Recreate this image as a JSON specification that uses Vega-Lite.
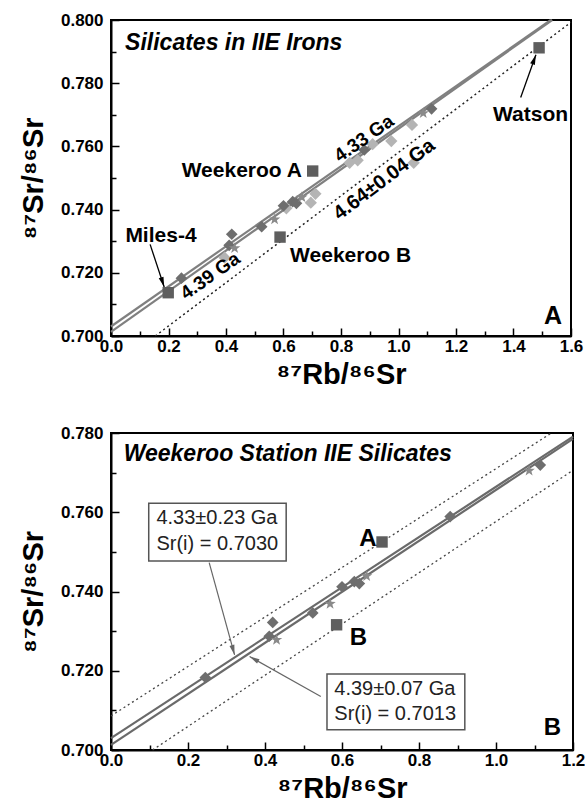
{
  "$schema": "https://vega.github.io/schema/vega-lite/v6.json",
  "background": "white",
  "padding": {"left": 18, "top": 10, "right": 5, "bottom": 0},
  "spacing": 33,
  "config": {
    "font": "Liberation Sans",
    "view": {"stroke": "black", "strokeWidth": 2},
    "axis": {
      "domainColor": "black", "domainWidth": 2, "tickColor": "black", "tickWidth": 1.5,
      "labelFont": "Liberation Sans", "labelFontWeight": "bold", "labelFontSize": 17, "labelColor": "black",
      "titleFont": "Liberation Sans", "titleFontWeight": "bold", "titleFontSize": 29, "titleColor": "black",
      "grid": false, "labelOverlap": false, "labelFlush": false
    }
  },
  "vconcat": [
    {
      "width": 460, "height": 316,
      "encoding": {
        "x": {"field": "x", "type": "quantitative", "title": "⁸⁷Rb/⁸⁶Sr",
          "scale": {"domain": [0, 1.6], "nice": false, "zero": false},
          "axis": {"values": [0, 0.1, 0.2, 0.3, 0.4, 0.5, 0.6, 0.7, 0.8, 0.9, 1.0, 1.1, 1.2, 1.3, 1.4, 1.5, 1.6],
            "labelExpr": "round(datum.value*10)%2===0 ? format(datum.value,'.1f') : ''",
            "tickSize": {"condition": {"test": "round(datum.value*10)%2===0", "value": -8}, "value": -5},
            "labelPadding": 10, "titlePadding": 3}},
        "y": {"field": "y", "type": "quantitative", "title": "⁸⁷Sr/⁸⁶Sr",
          "scale": {"domain": [0.7, 0.8], "nice": false, "zero": false},
          "axis": {"values": [0.7, 0.71, 0.72, 0.73, 0.74, 0.75, 0.76, 0.77, 0.78, 0.79, 0.8],
            "labelExpr": "round(datum.value*100)%2===0 ? format(datum.value,'.3f') : ''",
            "tickSize": {"condition": {"test": "round(datum.value*100)%2===0", "value": -8}, "value": -5},
            "labelPadding": 16, "titlePadding": 12}}
      },
      "layer": [
        {
          "data": {"values": [
            {"id": "a", "x": 0, "y": 0.7030}, {"id": "a", "x": 1.530, "y": 0.8},
            {"id": "b", "x": 0, "y": 0.7013}, {"id": "b", "x": 1.5345, "y": 0.8}
          ]},
          "mark": {"type": "line", "color": "#808080", "strokeWidth": 2.2},
          "encoding": {"detail": {"field": "id"}}
        },
        {
          "data": {"values": [{"x": 0.154, "y": 0.7}, {"x": 1.6, "y": 0.7993}]},
          "mark": {"type": "line", "color": "#222222", "strokeWidth": 1.5, "strokeDash": [2, 3]},
          "encoding": {}
        },
        {
          "data": {"values": [
            {"id": "m", "x": 0.136, "y": 0.729}, {"id": "m", "x": 0.185, "y": 0.7155},
            {"id": "w", "x": 1.425, "y": 0.7755}, {"id": "w", "x": 1.478, "y": 0.789}
          ]},
          "mark": {"type": "line", "color": "black", "strokeWidth": 1.3},
          "encoding": {"detail": {"field": "id"}}
        },
        {
          "data": {"values": [{"x": 0.185, "y": 0.7155}]},
          "mark": {"type": "point", "filled": true, "opacity": 1, "color": "black", "size": 100, "angle": 162, "shape": "M0,0L-0.5,2L0.5,2Z"}
        },
        {
          "data": {"values": [{"x": 1.478, "y": 0.789}]},
          "mark": {"type": "point", "filled": true, "opacity": 1, "color": "black", "size": 100, "angle": 20, "shape": "M0,0L-0.5,2L0.5,2Z"}
        },
        {
          "data": {"values": [
            {"x": 0.395, "y": 0.7248, "k": "lite"}, {"x": 0.61, "y": 0.7404, "k": "lite"},
            {"x": 0.695, "y": 0.7422, "k": "lite"}, {"x": 0.711, "y": 0.7450, "k": "lite"},
            {"x": 0.83, "y": 0.7548, "k": "lite"}, {"x": 0.858, "y": 0.7556, "k": "lite"},
            {"x": 0.91, "y": 0.7607, "k": "lite"}, {"x": 0.975, "y": 0.7617, "k": "lite"},
            {"x": 1.047, "y": 0.7668, "k": "lite"}, {"x": 1.053, "y": 0.7548, "k": "lite"},
            {"x": 0.245, "y": 0.7183, "k": "dia"}, {"x": 0.42, "y": 0.7322, "k": "dia"},
            {"x": 0.411, "y": 0.7287, "k": "dia"}, {"x": 0.524, "y": 0.7346, "k": "dia"},
            {"x": 0.600, "y": 0.7412, "k": "dia"}, {"x": 0.632, "y": 0.7425, "k": "dia"},
            {"x": 0.645, "y": 0.7420, "k": "dia"}, {"x": 0.881, "y": 0.7589, "k": "dia"},
            {"x": 1.115, "y": 0.7719, "k": "dia"},
            {"x": 0.430, "y": 0.7278, "k": "star"}, {"x": 0.569, "y": 0.7369, "k": "star"},
            {"x": 0.664, "y": 0.7439, "k": "star"}, {"x": 1.086, "y": 0.7705, "k": "star"},
            {"x": 0.7015, "y": 0.7522, "k": "sq"}, {"x": 0.588, "y": 0.7313, "k": "sq"},
            {"x": 0.199, "y": 0.7137, "k": "sq"}, {"x": 1.489, "y": 0.7912, "k": "sq"}
          ]},
          "mark": {"type": "point", "filled": true, "opacity": 1},
          "encoding": {
            "shape": {"field": "k", "legend": null, "scale": {"domain": ["sq", "dia", "star", "lite"],
              "range": ["square", "diamond", "M0,-1L0.235,-0.324L0.951,-0.309L0.38,0.124L0.588,0.809L0,0.4L-0.588,0.809L-0.38,0.124L-0.951,-0.309L-0.235,-0.324Z", "diamond"]}},
            "color": {"field": "k", "legend": null, "scale": {"domain": ["sq", "dia", "star", "lite"],
              "range": ["#5e5e5e", "#6e6e6e", "#8a8a8a", "#b4b4b4"]}},
            "size": {"field": "k", "legend": null, "scale": {"domain": ["sq", "dia", "star", "lite"],
              "range": [130, 150, 230, 150]}}
          }
        },
        {
          "data": {"values": [{"x": 0.049, "y": 0.7927, "t": "Silicates in IIE Irons"}]},
          "mark": {"type": "text", "fontSize": 23, "fontWeight": "bold", "fontStyle": "italic", "align": "left", "baseline": "middle", "color": "black"},
          "encoding": {"text": {"field": "t"}}
        },
        {
          "data": {"values": [{"x": 0.664, "y": 0.7522, "t": "Weekeroo A"}, {"x": 1.59, "y": 0.770, "t": "Watson"}]},
          "mark": {"type": "text", "fontSize": 21, "fontWeight": "bold", "align": "right", "baseline": "middle", "color": "black"},
          "encoding": {"text": {"field": "t"}}
        },
        {
          "data": {"values": [{"x": 0.623, "y": 0.7253, "t": "Weekeroo B"}, {"x": 0.05, "y": 0.7316, "t": "Miles-4"}]},
          "mark": {"type": "text", "fontSize": 21, "fontWeight": "bold", "align": "left", "baseline": "middle", "color": "black"},
          "encoding": {"text": {"field": "t"}}
        },
        {
          "data": {"values": [{"x": 1.569, "y": 0.7063, "t": "A"}]},
          "mark": {"type": "text", "fontSize": 25, "fontWeight": "bold", "align": "right", "baseline": "middle", "color": "black"},
          "encoding": {"text": {"field": "t"}}
        },
        {
          "data": {"values": [{"x": 0.88, "y": 0.7625, "t": "4.33 Ga"}, {"x": 0.345, "y": 0.719, "t": "4.39 Ga"}]},
          "mark": {"type": "text", "fontSize": 19, "fontWeight": "bold", "align": "center", "baseline": "middle", "angle": 325, "color": "black"},
          "encoding": {"text": {"field": "t"}}
        },
        {
          "data": {"values": [{"x": 0.95, "y": 0.7495, "t": "4.64±0.04 Ga"}]},
          "mark": {"type": "text", "fontSize": 20, "fontWeight": "bold", "align": "center", "baseline": "middle", "angle": 323, "color": "black"},
          "encoding": {"text": {"field": "t"}}
        }
      ]
    },
    {
      "width": 462, "height": 317,
      "encoding": {
        "x": {"field": "x", "type": "quantitative", "title": "⁸⁷Rb/⁸⁶Sr",
          "scale": {"domain": [0, 1.2], "nice": false, "zero": false},
          "axis": {"values": [0, 0.1, 0.2, 0.3, 0.4, 0.5, 0.6, 0.7, 0.8, 0.9, 1.0, 1.1, 1.2],
            "labelExpr": "round(datum.value*10)%2===0 ? format(datum.value,'.1f') : ''",
            "tickSize": {"condition": {"test": "round(datum.value*10)%2===0", "value": -8}, "value": -5},
            "labelPadding": 10, "titlePadding": 3}},
        "y": {"field": "y", "type": "quantitative", "title": "⁸⁷Sr/⁸⁶Sr",
          "scale": {"domain": [0.7, 0.78], "nice": false, "zero": false},
          "axis": {"values": [0.7, 0.71, 0.72, 0.73, 0.74, 0.75, 0.76, 0.77, 0.78],
            "labelExpr": "round(datum.value*100)%2===0 ? format(datum.value,'.3f') : ''",
            "tickSize": {"condition": {"test": "round(datum.value*100)%2===0", "value": -8}, "value": -5},
            "labelPadding": 16, "titlePadding": 12}}
      },
      "layer": [
        {
          "data": {"values": [
            {"id": "u", "x": 0, "y": 0.7086}, {"id": "u", "x": 1.144, "y": 0.78},
            {"id": "l", "x": 0.108, "y": 0.7}, {"id": "l", "x": 1.2, "y": 0.7706}
          ]},
          "mark": {"type": "line", "color": "#444444", "strokeWidth": 1.3, "strokeDash": [2, 3]},
          "encoding": {"detail": {"field": "id"}}
        },
        {
          "data": {"values": [
            {"id": "a", "x": 0, "y": 0.7030}, {"id": "a", "x": 1.2, "y": 0.7791},
            {"id": "b", "x": 0, "y": 0.7013}, {"id": "b", "x": 1.2, "y": 0.7785}
          ]},
          "mark": {"type": "line", "color": "#6a6a6a", "strokeWidth": 2.2},
          "encoding": {"detail": {"field": "id"}}
        },
        {
          "data": {"values": [
            {"id": "p", "x": 0.255, "y": 0.7473}, {"id": "p", "x": 0.321, "y": 0.7240},
            {"id": "q", "x": 0.545, "y": 0.7135}, {"id": "q", "x": 0.36, "y": 0.7236}
          ]},
          "mark": {"type": "line", "color": "#666666", "strokeWidth": 1.2},
          "encoding": {"detail": {"field": "id"}}
        },
        {
          "data": {"values": [{"x": 0.321, "y": 0.7240}]},
          "mark": {"type": "point", "filled": true, "opacity": 1, "color": "#666666", "size": 100, "angle": 164.6, "shape": "M0,0L-0.5,2L0.5,2Z"}
        },
        {
          "data": {"values": [{"x": 0.36, "y": 0.7236}]},
          "mark": {"type": "point", "filled": true, "opacity": 1, "color": "#666666", "size": 100, "angle": 299.4, "shape": "M0,0L-0.5,2L0.5,2Z"}
        },
        {
          "data": {"values": [
            {"x": 0.245, "y": 0.7183, "k": "dia"}, {"x": 0.42, "y": 0.7322, "k": "dia"},
            {"x": 0.411, "y": 0.7287, "k": "dia"}, {"x": 0.524, "y": 0.7346, "k": "dia"},
            {"x": 0.600, "y": 0.7412, "k": "dia"}, {"x": 0.632, "y": 0.7425, "k": "dia"},
            {"x": 0.645, "y": 0.7420, "k": "dia"}, {"x": 0.881, "y": 0.7589, "k": "dia"},
            {"x": 1.115, "y": 0.7719, "k": "dia"},
            {"x": 0.430, "y": 0.7278, "k": "star"}, {"x": 0.569, "y": 0.7369, "k": "star"},
            {"x": 0.664, "y": 0.7439, "k": "star"}, {"x": 1.086, "y": 0.7705, "k": "star"},
            {"x": 0.704, "y": 0.7525, "k": "sq"}, {"x": 0.586, "y": 0.7316, "k": "sq"}
          ]},
          "mark": {"type": "point", "filled": true, "opacity": 1},
          "encoding": {
            "shape": {"field": "k", "legend": null, "scale": {"domain": ["sq", "dia", "star"],
              "range": ["square", "diamond", "M0,-1L0.235,-0.324L0.951,-0.309L0.38,0.124L0.588,0.809L0,0.4L-0.588,0.809L-0.38,0.124L-0.951,-0.309L-0.235,-0.324Z"]}},
            "color": {"field": "k", "legend": null, "scale": {"domain": ["sq", "dia", "star"],
              "range": ["#5e5e5e", "#6e6e6e", "#8a8a8a"]}},
            "size": {"field": "k", "legend": null, "scale": {"domain": ["sq", "dia", "star"],
              "range": [150, 150, 230]}}
          }
        },
        {
          "data": {"values": [
            {"x": 0.098, "x2": 0.455, "y": 0.7623, "y2": 0.7477},
            {"x": 0.561, "x2": 0.919, "y": 0.7192, "y2": 0.7051}
          ]},
          "mark": {"type": "rect", "fill": "#a8a8a8", "xOffset": 5, "yOffset": 5},
          "encoding": {"x2": {"field": "x2"}, "y2": {"field": "y2"}}
        },
        {
          "data": {"values": [
            {"x": 0.098, "x2": 0.455, "y": 0.7623, "y2": 0.7477},
            {"x": 0.561, "x2": 0.919, "y": 0.7192, "y2": 0.7051}
          ]},
          "mark": {"type": "rect", "fill": "white", "stroke": "#555555", "strokeWidth": 1.5},
          "encoding": {"x2": {"field": "x2"}, "y2": {"field": "y2"}}
        },
        {
          "data": {"values": [
            {"x": 0.118, "y": 0.7585, "t": "4.33±0.23 Ga"}, {"x": 0.118, "y": 0.7519, "t": "Sr(i) = 0.7030"},
            {"x": 0.580, "y": 0.7154, "t": "4.39±0.07 Ga"}, {"x": 0.580, "y": 0.7090, "t": "Sr(i) = 0.7013"}
          ]},
          "mark": {"type": "text", "fontSize": 20, "align": "left", "baseline": "middle", "color": "#222222"},
          "encoding": {"text": {"field": "t"}}
        },
        {
          "data": {"values": [{"x": 0.033, "y": 0.7747, "t": "Weekeroo Station IIE Silicates"}]},
          "mark": {"type": "text", "fontSize": 23, "fontWeight": "bold", "fontStyle": "italic", "align": "left", "baseline": "middle", "color": "black"},
          "encoding": {"text": {"field": "t"}}
        },
        {
          "data": {"values": [{"x": 0.69, "y": 0.7532, "t": "A"}, {"x": 1.169, "y": 0.7056, "t": "B"}]},
          "mark": {"type": "text", "fontSize": 24, "fontWeight": "bold", "align": "right", "baseline": "middle", "color": "black"},
          "encoding": {"text": {"field": "t"}}
        },
        {
          "data": {"values": [{"x": 0.62, "y": 0.7283, "t": "B"}]},
          "mark": {"type": "text", "fontSize": 24, "fontWeight": "bold", "align": "left", "baseline": "middle", "color": "black"},
          "encoding": {"text": {"field": "t"}}
        }
      ]
    }
  ]
}
